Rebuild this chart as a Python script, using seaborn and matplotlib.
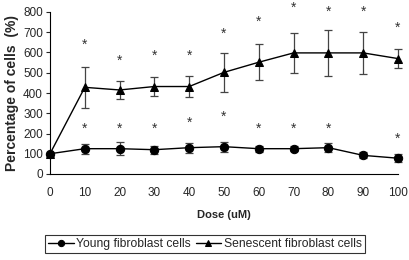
import numpy as np
import pandas as pd
import matplotlib
matplotlib.use("Agg")
import matplotlib.pyplot as plt
import seaborn as sns

# --- data ---
dose = [0, 10, 20, 30, 40, 50, 60, 70, 80, 90, 100]
young = [100, 125, 125, 120, 130, 135, 125, 125, 130, 92, 78]
young_err = [0, 25, 32, 20, 25, 25, 15, 12, 22, 15, 20]
senescent = [100, 428, 415, 432, 432, 502, 552, 598, 598, 598, 570]
senescent_err = [0, 100, 45, 45, 52, 97, 88, 100, 115, 102, 46]

# significance marks (dose, y position)
star_dose_sen = [10, 20, 30, 40, 50, 60, 70, 80, 90, 100]
star_y_sen = [640, 557, 582, 582, 692, 752, 822, 800, 800, 724]
star_dose_young = [10, 20, 30, 40, 50, 60, 70, 80, 100]
star_y_young = [222, 222, 222, 251, 285, 222, 222, 222, 174]

df = pd.DataFrame({
    "Dose": dose * 2,
    "Value": young + senescent,
    "Group": ["Young fibroblast cells"] * len(dose) + ["Senescent fibroblast cells"] * len(dose),
})

sns.set_style("ticks")
plt.rcParams["font.family"] = ["Liberation Sans", "DejaVu Sans"]

fig = plt.figure(figsize=(4.09, 2.6), dpi=100)
ax = fig.add_axes([50 / 409, 1 - 174 / 260, 348 / 409, 162 / 260])

# error bars first, underneath
ax.errorbar(dose, young, yerr=young_err, fmt="none", ecolor="#444444",
            elinewidth=0.9, capsize=3, capthick=0.9, clip_on=False, zorder=2)
ax.errorbar(dose, senescent, yerr=senescent_err, fmt="none", ecolor="#444444",
            elinewidth=0.9, capsize=3, capthick=0.9, clip_on=False, zorder=2)

sns.lineplot(data=df, x="Dose", y="Value", hue="Group", style="Group",
             markers={"Young fibroblast cells": "o", "Senescent fibroblast cells": "^"},
             dashes=False, palette=["black", "black"], markersize=6,
             markeredgecolor="black", linewidth=1.0, ax=ax, clip_on=False, zorder=3)

for x, y in zip(star_dose_sen, star_y_sen):
    ax.text(x, y, "*", ha="center", va="center", fontsize=10, color="#333333", clip_on=False)
for x, y in zip(star_dose_young, star_y_young):
    ax.text(x, y, "*", ha="center", va="center", fontsize=10, color="#333333", clip_on=False)

ax.set_xlim(0, 100)
ax.set_ylim(0, 800)
ax.set_xticks(dose)
ax.set_yticks(range(0, 801, 100))
ax.tick_params(axis="y", labelsize=8.5, length=3, width=0.8, pad=2)
ax.tick_params(axis="x", labelsize=8.5, length=0, pad=9)
ax.set_xlabel("Dose (uM)", fontsize=8, fontweight="bold", labelpad=8)
ax.set_ylabel("Percentage of cells  (%)", fontsize=10, fontweight="bold", labelpad=3)
for s in ["left", "bottom"]:
    ax.spines[s].set_linewidth(0.8)
    ax.spines[s].set_color("black")
sns.despine(ax=ax)

handles, labels = ax.get_legend_handles_labels()
ax.legend_.remove()
for h in handles:
    h.set_markersize(4.5)
leg = fig.legend(handles, labels, loc="center", bbox_to_anchor=(205 / 409, 1 - 244 / 260),
                 ncol=2, fontsize=8.7, frameon=True, fancybox=False, edgecolor="black",
                 handlelength=2.1, handletextpad=0.2, columnspacing=0.4, borderpad=0.25)
leg.get_frame().set_linewidth(0.8)

fig.savefig("out.png", dpi=100)
